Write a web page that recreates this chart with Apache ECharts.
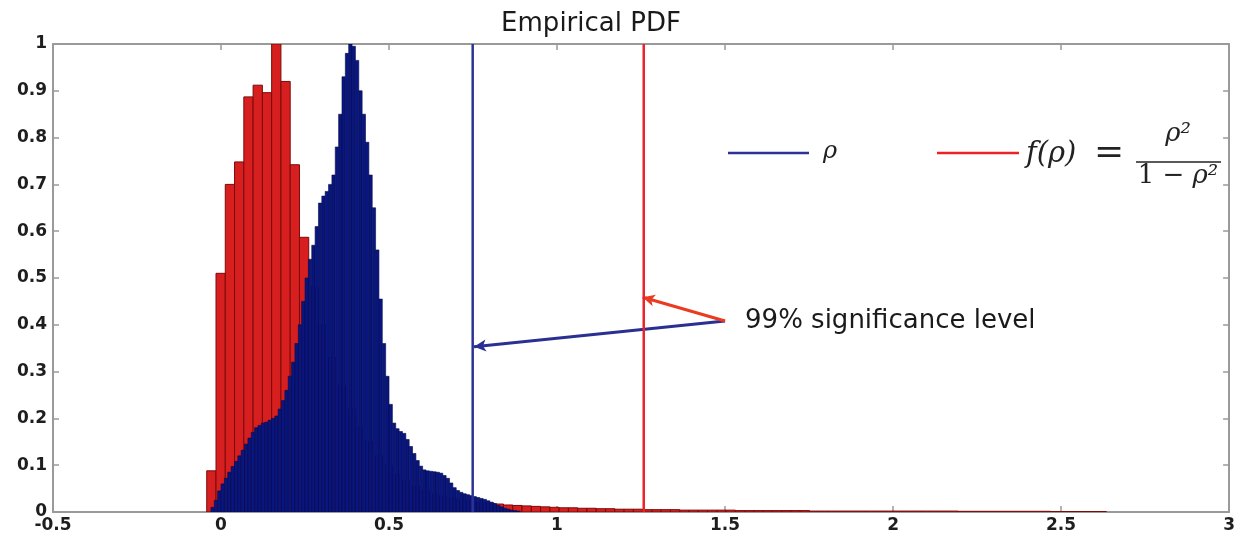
<!DOCTYPE html>
<html><head><meta charset="utf-8">
<script src="https://cdn.jsdelivr.net/npm/echarts@6/dist/echarts.min.js"></script>
<style>html,body{margin:0;padding:0;background:#fff}#c{width:1238px;height:534px}</style>
</head><body><div id="c"></div>
<script>
// ---- data ----
const titleText = 'Empirical PDF';
const xMin = -0.5, xMax = 3, xInterval = 0.5;
const yMin = 0, yMax = 1, yInterval = 0.1;

// histogram of f(rho) = rho^2/(1-rho^2)
const redBinStart = -0.0425;
const redBinWidth = 0.0276;
const redValues = [0.088,0.51,0.70,0.748,0.887,0.912,0.896,1.0,0.92,0.742,0.587,
  0.48,0.40,0.33,0.27,0.22,0.18,0.15,0.12,0.10,0.08,
  0.066,0.055,0.046,0.039,0.034,0.029,0.026,0.023,0.021,0.019,
  0.017,0.015,0.014,0.013,0.012,0.011,0.010,0.009,0.009,0.008,
  0.008,0.007,0.007,0.006,0.006,0.006,0.005,0.005,0.005,0.005,
  0.004,0.004,0.004,0.004,0.004,0.004,0.003,0.003,0.003,0.003,
  0.003,0.003,0.003,0.003,0.002,0.002,0.002,0.002,0.002,0.002,
  0.002,0.002,0.002,0.002,0.002,0.002,0.002,0.002,0.002,0.002,
  0.0015,0.0015,0.0015,0.0015,0.0015,0.0015,0.0015,0.0015,0.0015,0.0015,
  0.001,0.001,0.001,0.001,0.001,0.001];

// histogram of rho
const blueBinStart = -0.03;
const blueBinWidth = 0.01;
const blueValues = [0.01,0.025,0.045,0.06,0.072,0.085,0.097,0.108,0.12,0.132,
  0.145,0.158,0.17,0.18,0.185,0.19,0.192,0.196,0.2,0.205,
  0.22,0.238,0.26,0.29,0.32,0.36,0.40,0.45,0.50,0.54,
  0.57,0.61,0.66,0.675,0.685,0.70,0.72,0.78,0.85,0.93,
  0.98,1.0,0.995,0.965,0.90,0.85,0.79,0.72,0.65,0.56,
  0.455,0.36,0.29,0.23,0.19,0.178,0.172,0.168,0.155,0.14,
  0.125,0.11,0.098,0.09,0.088,0.087,0.086,0.085,0.083,0.078,
  0.072,0.062,0.052,0.046,0.042,0.039,0.037,0.035,0.033,0.031,
  0.029,0.027,0.024,0.021,0.018,0.014,0.011,0.008,0.006,0.004,
  0.003,0.002];

// 99% significance levels
const thresholdRho = 0.749;
const thresholdF = 1.258;
const annotationText = '99% significance level';
const annotationOrigin = [1.5, 0.408];
const arrowHeadF = [1.255, 0.459];
const arrowHeadRho = [0.753, 0.353];

// ---- build ----
function bins(start, width, values) {
  return values.map((v, i) => [start + i * width, start + (i + 1) * width, v]);
}
function histRender(fill, stroke, lw) {
  return function (params, api) {
    const p0 = api.coord([api.value(0), api.value(2)]);
    const p1 = api.coord([api.value(1), 0]);
    return {
      type: 'rect',
      shape: { x: p0[0], y: p0[1], width: p1[0] - p0[0], height: p1[1] - p0[1] },
      style: { fill: fill, stroke: stroke, lineWidth: lw }
    };
  };
}

const axisColor = '#9a9a9a';
const labelFont = { fontFamily: 'DejaVu Sans', fontWeight: 'bold', fontSize: 17, color: '#1e1e1e' };
const mathFont = '"DejaVu Serif"';

function axisCommon(extra) {
  return Object.assign({
    type: 'value',
    axisLine: { show: true, onZero: false, lineStyle: { color: axisColor, width: 2 } },
    axisTick: { show: true, inside: true, length: 6, lineStyle: { color: axisColor, width: 1.5 } },
    splitLine: { show: false }
  }, extra);
}

const chart = echarts.init(document.getElementById('c'), null, { renderer: 'canvas' });
chart.setOption({
  animation: false,
  backgroundColor: '#ffffff',
  title: {
    text: titleText, left: 586, top: 6, textAlign: 'center',
    textStyle: { fontFamily: 'DejaVu Sans', fontWeight: 'normal', fontSize: 26, color: '#1a1a1a' }
  },
  grid: { left: 53, right: 6, top: 44, bottom: 22, containLabel: false },
  xAxis: [
    axisCommon({ min: xMin, max: xMax, interval: xInterval, position: 'bottom',
      axisLabel: Object.assign({ margin: 5 }, labelFont) }),
    axisCommon({ min: xMin, max: xMax, interval: xInterval, position: 'top', axisLabel: { show: false } })
  ],
  yAxis: [
    axisCommon({ min: yMin, max: yMax, interval: yInterval, position: 'left',
      axisLabel: Object.assign({ margin: 6 }, labelFont) }),
    axisCommon({ min: yMin, max: yMax, interval: yInterval, position: 'right', axisLabel: { show: false } })
  ],
  series: [
    { type: 'custom', name: 'f(rho) histogram', xAxisIndex: 0, yAxisIndex: 0, z: 1, clip: true,
      renderItem: histRender('#d81f1f', '#7a0a0a', 1),
      encode: { x: [0, 1], y: 2 },
      data: bins(redBinStart, redBinWidth, redValues) },
    { type: 'custom', name: 'rho histogram', xAxisIndex: 0, yAxisIndex: 0, z: 2, clip: true,
      renderItem: histRender('#0a1680', '#040b4a', 0.6),
      encode: { x: [0, 1], y: 2 },
      data: bins(blueBinStart, blueBinWidth, blueValues) },
    { type: 'line', name: 'ρ', xAxisIndex: 0, yAxisIndex: 0, z: 5, symbol: 'none',
      lineStyle: { color: '#2d3296', width: 2.5 },
      data: [[thresholdRho, yMin], [thresholdRho, yMax]],
      markLine: { silent: true, symbol: ['none', 'arrow'], symbolSize: [9, 12],
        label: { show: false },
        lineStyle: { color: '#2a2f92', width: 3, type: 'solid' },
        data: [[{ coord: annotationOrigin }, { coord: arrowHeadRho }]] } },
    { type: 'line', name: 'f(ρ)', xAxisIndex: 0, yAxisIndex: 0, z: 5, symbol: 'none',
      lineStyle: { color: '#e8232a', width: 2.5 },
      data: [[thresholdF, yMin], [thresholdF, yMax]],
      markLine: { silent: true, symbol: ['none', 'arrow'], symbolSize: [9, 12],
        label: { show: false },
        lineStyle: { color: '#ea3a22', width: 3, type: 'solid' },
        data: [[{ coord: annotationOrigin }, { coord: arrowHeadF }]] },
      markPoint: { silent: true, symbol: 'circle', symbolSize: 0,
        data: [{ coord: annotationOrigin }],
        label: { show: true, position: 'right', distance: 20, formatter: annotationText,
          fontFamily: 'DejaVu Sans', fontSize: 26, color: '#1a1a1a' } } }
  ],
  graphic: [
    { type: 'line', shape: { x1: 728, y1: 153, x2: 809, y2: 153 }, style: { stroke: '#2d3296', lineWidth: 2.5 } },
    { type: 'text', x: 823, y: 152, style: { text: 'ρ', font: 'italic 24px ' + mathFont, fill: '#222', verticalAlign: 'middle' } },
    { type: 'line', shape: { x1: 937, y1: 153, x2: 1019, y2: 153 }, style: { stroke: '#e8232a', lineWidth: 2.5 } },
    { type: 'text', x: 1026, y: 154, style: { text: 'f(ρ)', font: 'italic 29px ' + mathFont, fill: '#222', verticalAlign: 'middle' } },
    { type: 'text', x: 1094, y: 154, style: { text: '=', font: '36px ' + mathFont, fill: '#222', verticalAlign: 'middle' } },
    { type: 'text', x: 1178, y: 134, style: { text: 'ρ²', font: 'italic 26px ' + mathFont, fill: '#222', align: 'center', verticalAlign: 'middle' } },
    { type: 'line', shape: { x1: 1136, y1: 162, x2: 1221, y2: 162 }, style: { stroke: '#222', lineWidth: 1.5 } },
    { type: 'text', x: 1178, y: 176, style: {
        text: '{n|1 − }{i|ρ²}', align: 'center', verticalAlign: 'middle',
        rich: { n: { font: '26px ' + mathFont, fill: '#222' }, i: { font: 'italic 26px ' + mathFont, fill: '#222' } } } }
  ]
});
</script>
</body></html>
